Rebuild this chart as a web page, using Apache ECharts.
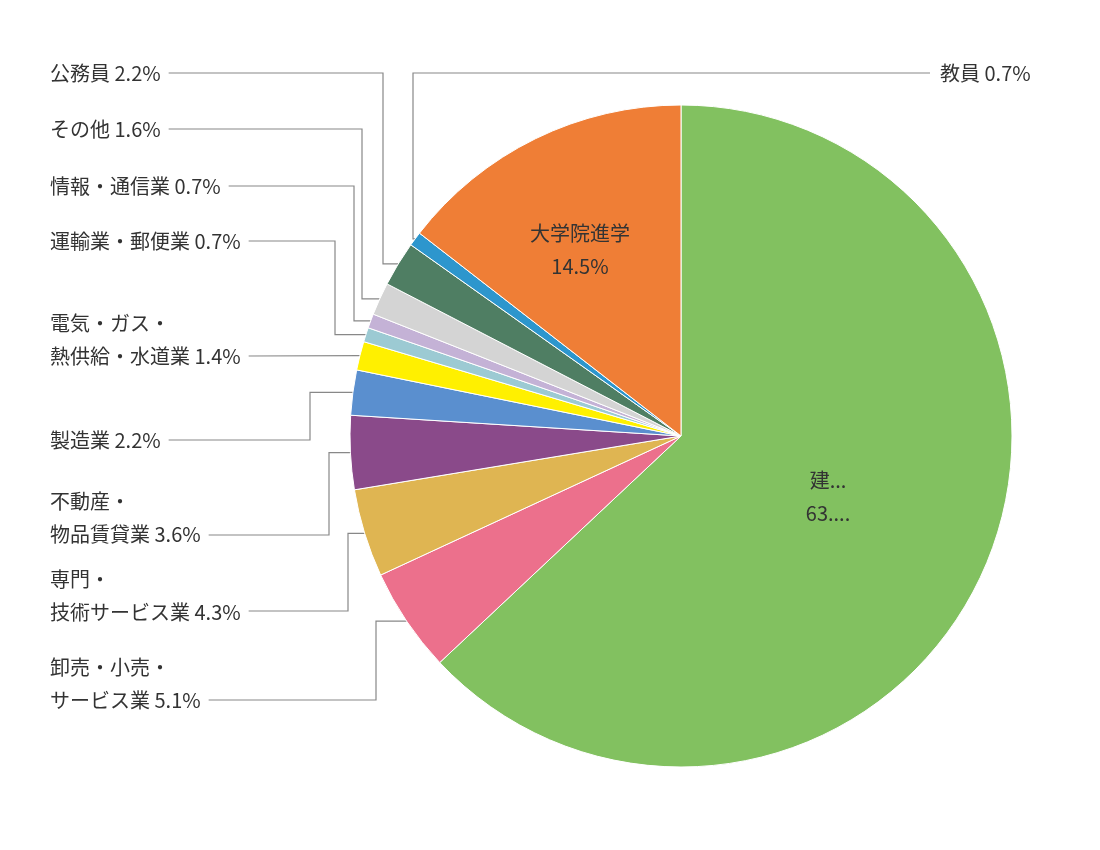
<!DOCTYPE html>
<html><head><meta charset="utf-8">
<script src="https://cdn.jsdelivr.net/npm/echarts@6/dist/echarts.min.js"></script>
<style>body{margin:0}#c{width:1100px;height:850px}</style></head>
<body><div id="c"></div>
<script>
const categories = ['建設業','卸売・小売・\nサービス業','専門・\n技術サービス業','不動産・\n物品賃貸業','製造業','電気・ガス・\n熱供給・水道業','運輸業・郵便業','情報・通信業','その他','公務員','教員','大学院進学'];
const values = [63.0,5.1,4.3,3.6,2.2,1.4,0.7,0.7,1.6,2.2,0.7,14.5];
const colors = ['#82c160','#ec708c','#dfb552','#8a4a8a','#5a8fcf','#fff000','#9ccad3','#c4b2d6','#d4d4d4','#4f7e63','#2d96cd','#ef7e36'];
// label layout: [labelX, labelCenterY, lineY, elbowX]
const lay = [
 [828,497,null,null],[50,684,700,376],[50,596,611,348],[50,518,535,329],[50,440,440,310],
 [50,340,356,null],[50,241,241,335],[50,186,186,354],[50,129,129,362],[50,73,73,383],
 [940,73,73,413],[580,250,null,null]
];
const chart = echarts.init(document.getElementById('c'));
chart.setOption({
  series:[{
    type:'pie', center:[681,436], radius:331, startAngle:90, clockwise:true,
    data: categories.map((n,i)=>({name:n,value:values[i],itemStyle:{color:colors[i]},
      labelLine:{show: lay[i][2]!==null}})),
    itemStyle:{borderColor:'#fff',borderWidth:1},
    label:{formatter:p=>p.name+' '+p.value.toFixed(1)+'%', fontSize:20, lineHeight:33, color:'#333',
      fontFamily:'Noto Sans CJK JP'},
    labelLine:{lineStyle:{color:'#888',width:1.2}},
    labelLayout:function(p){
      const L = lay[p.dataIndex];
      if(L[2]===null){
        return {x:L[0],y:L[1],align:'center',verticalAlign:'middle'};
      }
      const w = p.labelRect.width;
      const s = p.labelLinePoints ? p.labelLinePoints[0] : [0,0];
      let pts;
      if(L[0] > 681){
        const startX = L[0]-10;
        pts = [s,[L[3],s[1]],[L[3],L[2]],[startX,L[2]]];
      } else {
        const endX = L[0]+w+8;
        if(L[3]===null) pts = [s,[endX,L[2]]];
        else pts = [s,[L[3],s[1]],[L[3],L[2]],[endX,L[2]]];
      }
      return {x:L[0],y:L[1],align:'left',verticalAlign:'middle',labelLinePoints:pts};
    }
  }]
});
chart.setOption({series:[{data: categories.map((n,i)=>({name:n,value:values[i],itemStyle:{color:colors[i]},
  label: lay[i][2]===null?{formatter:p=>p.name+'\n'+p.value.toFixed(1)+'%'}:{} ,labelLine:{show: lay[i][2]!==null}}))}]});
</script></body></html>
